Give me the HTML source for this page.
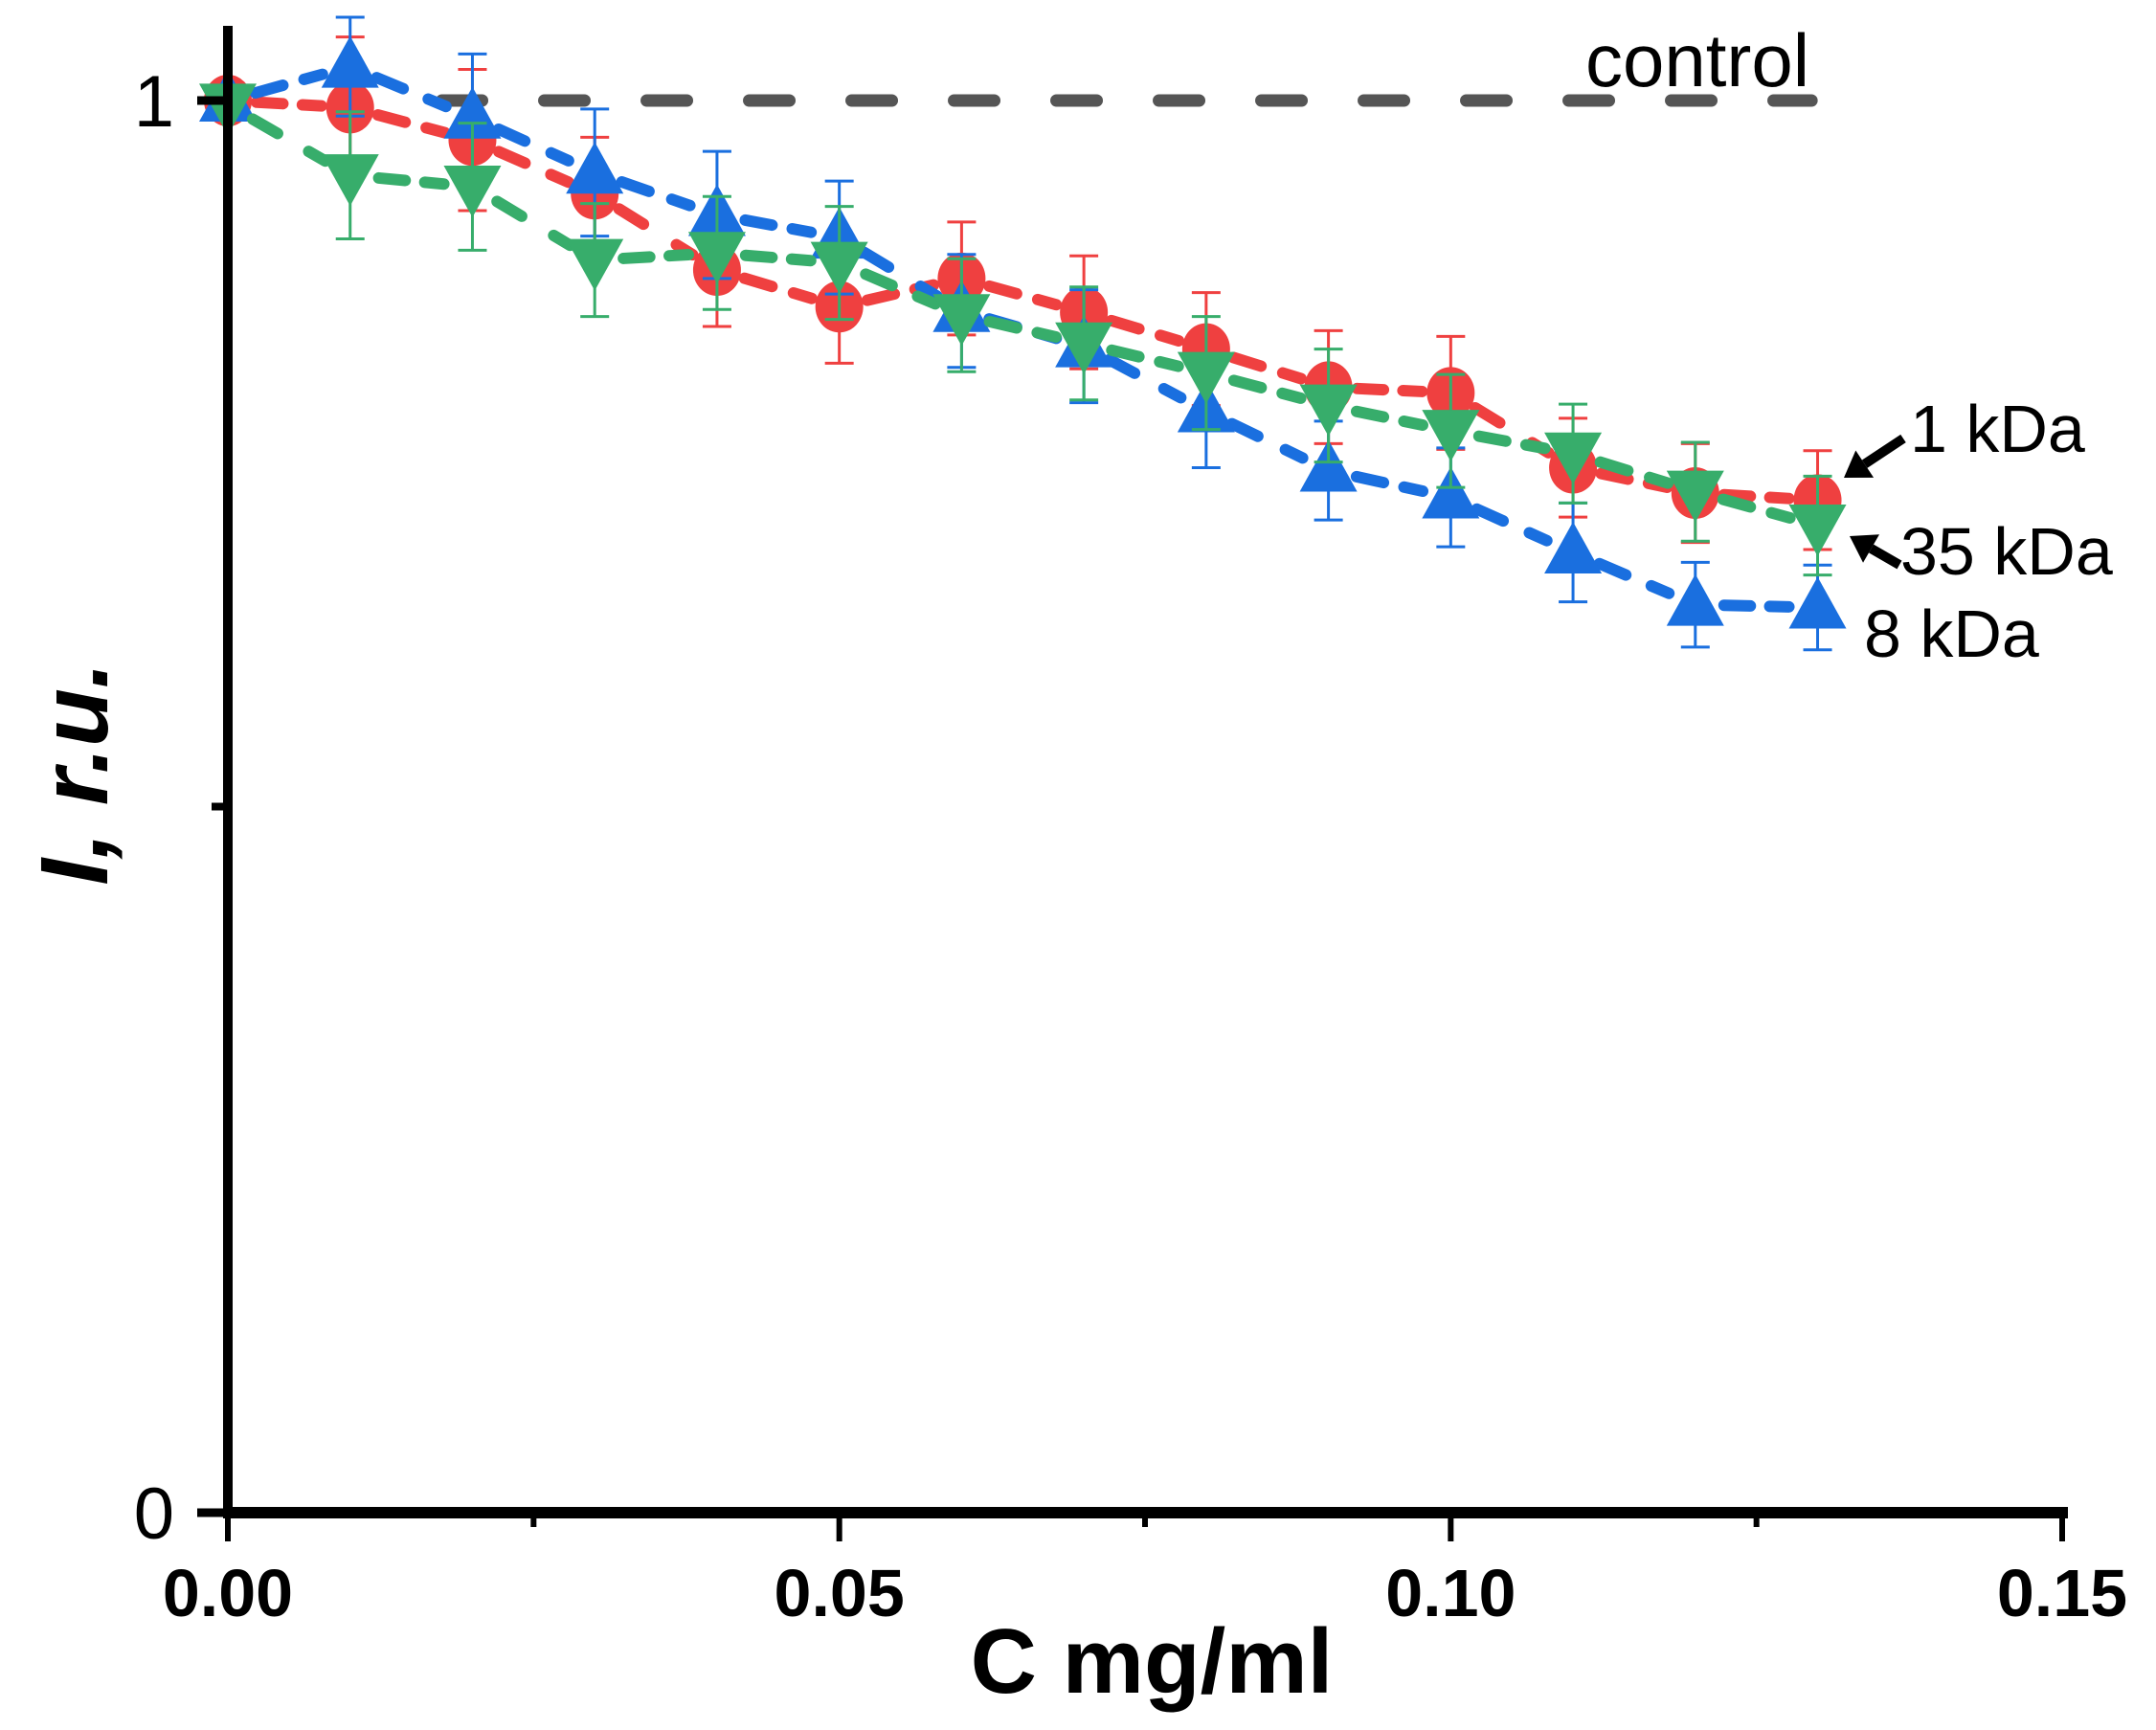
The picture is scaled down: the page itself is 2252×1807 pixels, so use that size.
<!DOCTYPE html>
<html><head><meta charset="utf-8"><style>
html,body{margin:0;padding:0;background:#fff}
svg{display:block}
text{font-family:"Liberation Sans",sans-serif}
</style></head><body>
<svg id="chart" width="2252" height="1807" viewBox="0 0 2252 1807" xmlns="http://www.w3.org/2000/svg">
<g id="series"></g>
<g id="axes"></g>
</svg>
<script>
const xs = [0,0.01,0.02,0.03,0.04,0.05,0.06,0.07,0.08,0.09,0.10,0.11,0.12,0.13];
const red = [1.0,0.995,0.972,0.934,0.88,0.854,0.874,0.850,0.824,0.797,0.793,0.740,0.722,0.717];
const redErr = [0,0.05,0.05,0.04,0.04,0.04,0.04,0.04,0.04,0.04,0.04,0.035,0.035,0.035];
const blue = [1.0,1.024,0.988,0.949,0.919,0.903,0.851,0.826,0.780,0.738,0.719,0.680,0.643,0.641];
const blueErr = [0,0.035,0.045,0.045,0.045,0.04,0.04,0.04,0.04,0.035,0.035,0.035,0.03,0.03];
const green = [0.997,0.947,0.939,0.887,0.892,0.885,0.848,0.828,0.807,0.784,0.766,0.750,0.723,0.699];
const greenErr = [0,0.045,0.045,0.04,0.04,0.04,0.04,0.04,0.04,0.04,0.04,0.035,0.035,0.035];
const xTicks = [0,0.05,0.10,0.15];
const xTickLabels = ["0.00","0.05","0.10","0.15"];
const yTicks = [0,1];
const yTickLabels = ["0","1"];
const controlValue = 1;

const NS="http://www.w3.org/2000/svg";
const X0=238,X1=2154,Y0=1580,Y1=105;
const sx=v=>X0+v/0.15*(X1-X0);
const sy=v=>Y0-v*(Y0-Y1);
function mk(tag,attrs,parent){const e=document.createElementNS(NS,tag);for(const k in attrs)e.setAttribute(k,attrs[k]);parent.appendChild(e);return e;}
const S=document.getElementById('series'), A=document.getElementById('axes');

let cl=mk('line',{x1:sx(0.0175),x2:sx(0.1295),y1:sy(controlValue),y2:sy(controlValue),stroke:'#555',"stroke-width":13,"stroke-linecap":"round","stroke-dasharray":"42 65"},S);



const series=[
 {name:'1kda',vals:red,err:redErr,color:'#ef4040',m:'circle'},
 {name:'8kda',vals:blue,err:blueErr,color:'#1a6fdf',m:'up'},
 {name:'35kda',vals:green,err:greenErr,color:'#37ad6b',m:'down'}
];
series.forEach(s=>{
 const g=mk('g',{},S);
 
 
 for(let i=0;i<xs.length-1;i++){
   const x1=sx(xs[i]),y1=sy(s.vals[i]),x2=sx(xs[i+1]),y2=sy(s.vals[i+1]);
   const dx=x2-x1,dy=y2-y1,L=Math.hypot(dx,dy),ux=dx/L,uy=dy/L;
   const ln=mk('line',{x1:x1+ux*30,y1:y1+uy*30,x2:x1+ux*Math.min(L*0.45,60),y2:y1+uy*Math.min(L*0.45,60),stroke:s.color,"stroke-width":12,"stroke-linecap":"round"},g);
   
   
   const ln2=mk('line',{x1:x2-ux*Math.min(L*0.4,50),y1:y2-uy*Math.min(L*0.4,50),x2:x2-ux*30,y2:y2-uy*30,stroke:s.color,"stroke-width":12,"stroke-linecap":"round"},g);
   
   
 }
 xs.forEach((x,i)=>{
   const cx=sx(x),cy=sy(s.vals[i]);
   if(s.err[i]>0){
     const t=sy(s.vals[i]+s.err[i]),b=sy(s.vals[i]-s.err[i]);
     const eb=mk('path',{d:`M${cx},${t}V${b}M${cx-15},${t}H${cx+15}M${cx-15},${b}H${cx+15}`,stroke:s.color,"stroke-width":3,fill:'none'},g);
     
     
   }
   let p;
   if(s.m==='circle') p=mk('ellipse',{cx:cx,cy:cy,rx:25,ry:27,fill:s.color},g);
   else if(s.m==='up') p=mk('path',{d:`M${cx},${cy-32}L${cx+30},${cy+22}L${cx-30},${cy+22}Z`,fill:s.color},g);
   else p=mk('path',{d:`M${cx},${cy+32}L${cx+30},${cy-22}L${cx-30},${cy-22}Z`,fill:s.color},g);
   
   
 });
});

let ya=mk('line',{x1:X0,x2:X0,y1:27,y2:Y0+6,stroke:'#000',"stroke-width":10},A);


let xa=mk('line',{x1:X0-5,x2:X1+6,y1:Y0,y2:Y0,stroke:'#000',"stroke-width":12},A);


xTicks.forEach((t,i)=>{
  const tk=mk('line',{x1:sx(t),x2:sx(t),y1:Y0,y2:1610,stroke:'#000',"stroke-width":6},A);
  
  
  const lb=mk('text',{x:sx(t),y:1688,"text-anchor":"middle","font-size":70,"font-weight":"bold"},A);
  lb.textContent=xTickLabels[i];
  
  
});
[0.025,0.075,0.125].forEach(t=>{
  const tk=mk('line',{x1:sx(t),x2:sx(t),y1:Y0,y2:1595,stroke:'#000',"stroke-width":6},A);
  
  
});
yTicks.forEach((t,i)=>{
  const tk=mk('line',{x1:206,x2:X0,y1:sy(t),y2:sy(t),stroke:'#000',"stroke-width":9},A);
  
  
  const lb=mk('text',{x:182,y:sy(t)+27,"text-anchor":"end","font-size":76},A);
  lb.textContent=yTickLabels[i];
  
  
});
let mt=mk('line',{x1:221,x2:X0,y1:sy(0.5),y2:sy(0.5),stroke:'#000',"stroke-width":8},A);



function txt(s,x,y,size,name,extra){const t=mk('text',Object.assign({x:x,y:y,"font-size":size},extra||{}),A);t.textContent=s;return t;}
txt('C mg/ml',1203,1768,96,'x-axis-title',{"text-anchor":"middle","font-weight":"bold"});
txt('I, r.u.',112,808,100,'y-axis-title',{"text-anchor":"middle","font-weight":"bold","font-style":"italic",transform:"rotate(-90 112 808)"});
txt('control',1656,90,78,'control-label');
txt('1 kDa',1995,472,70,'label-1kda');
txt('35 kDa',1985,600,70,'label-35kda');
txt('8 kDa',1947,686,70,'label-8kda');

function arrow(x1,y1,x2,y2,name){
  const g=mk('g',{},A);
  
  
  const dx=x2-x1,dy=y2-y1,L=Math.hypot(dx,dy),ux=dx/L,uy=dy/L;
  const hx=x2-ux*26,hy=y2-uy*26;
  mk('line',{x1:x1,y1:y1,x2:hx,y2:hy,stroke:'#000',"stroke-width":10},g);
  mk('path',{d:`M${x2},${y2}L${hx-uy*17},${hy+ux*17}L${hx+uy*17},${hy-ux*17}Z`,fill:'#000'},g);
}
arrow(1988,458,1926,499,'arrow-1kda');
arrow(1984,590,1932,560,'arrow-35kda');
</script>
</body></html>
